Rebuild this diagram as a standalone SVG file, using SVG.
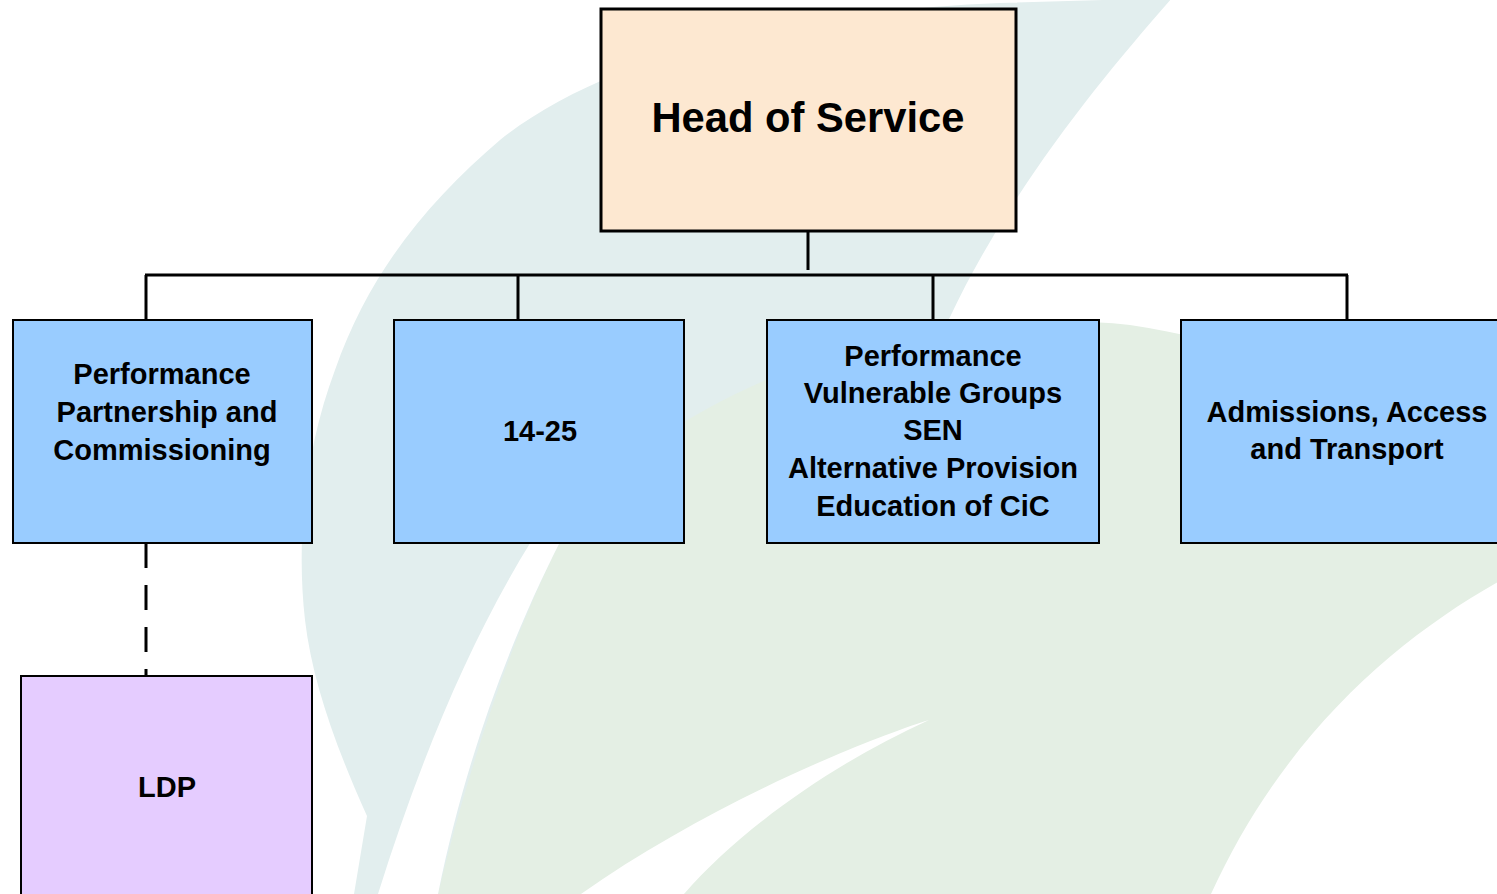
<svg xmlns="http://www.w3.org/2000/svg" width="1497" height="894" viewBox="0 0 1497 894">
  <style>
    .box { fill: #99ccff; stroke: #000; stroke-width: 2; }
    .head { fill: #fde8d1; stroke: #000; stroke-width: 3; }
    .ldp { fill: #e5ccff; stroke: #000; stroke-width: 2; }
    .lbl { font-family: "Liberation Sans", Arial, sans-serif; font-weight: bold; font-size: 29px; fill: #000; text-anchor: middle; }
    .conn { stroke: #000; stroke-width: 3; fill: none; }
    .dash { stroke: #000; stroke-width: 3; fill: none; stroke-dasharray: 25 17; }
  </style>
  <rect x="0" y="0" width="1497" height="894" fill="#ffffff"/>
  <g id="background">
    <path d="M 354,894 L 367,816 C 335,745 312,680 305,620 C 296,540 305,450 335,370 C 370,270 430,200 500,140 C 600,60 780,12 1000,3 L 1172,-2 C 1100,80 1010,190 950,317 C 900,420 720,470 600,520 L 450,894 Z" fill="#e2eeee"/>
    <path d="M 438,894 C 470,760 515,630 561,540 C 610,460 700,400 830,355 C 930,325 1040,315 1130,325 C 1300,350 1440,430 1530,500 L 1530,565 C 1420,620 1290,720 1211,894 Z" fill="#e4efe4"/>
    <path d="M 378,894 C 420,760 470,640 532,540 C 565,490 610,455 650,432 C 615,470 585,505 561,540 C 510,640 465,760 438,894 Z" fill="#ffffff"/>
    <path d="M 929,720 C 850,745 700,810 581,894 L 684,894 C 740,830 830,765 929,720 Z" fill="#ffffff"/>
  </g>
  <g id="connectors">
    <line class="conn" x1="808" y1="231" x2="808" y2="270"/>
    <line class="conn" x1="145" y1="275" x2="1348" y2="275"/>
    <line class="conn" x1="146" y1="275" x2="146" y2="320"/>
    <line class="conn" x1="518" y1="275" x2="518" y2="320"/>
    <line class="conn" x1="933" y1="275" x2="933" y2="320"/>
    <line class="conn" x1="1347" y1="275" x2="1347" y2="320"/>
    <line class="dash" x1="146" y1="543" x2="146" y2="676"/>
  </g>
  <g id="node-head">
    <rect class="head" x="601" y="9" width="415" height="222"/>
    <text class="lbl" x="808" y="132" style="font-size:42px" textLength="313" lengthAdjust="spacingAndGlyphs">Head of Service</text>
  </g>
  <g id="node-ppc">
    <rect class="box" x="13" y="320" width="299" height="223"/>
    <text class="lbl" x="162" y="384">Performance</text>
    <text class="lbl" x="167" y="422">Partnership and</text>
    <text class="lbl" x="162" y="460">Commissioning</text>
  </g>
  <g id="node-1425">
    <rect class="box" x="394" y="320" width="290" height="223"/>
    <text class="lbl" x="540" y="441">14-25</text>
  </g>
  <g id="node-pvg">
    <rect class="box" x="767" y="320" width="332" height="223"/>
    <text class="lbl" x="933" y="366">Performance</text>
    <text class="lbl" x="933" y="403">Vulnerable Groups</text>
    <text class="lbl" x="933" y="440">SEN</text>
    <text class="lbl" x="933" y="478">Alternative Provision</text>
    <text class="lbl" x="933" y="516">Education of CiC</text>
  </g>
  <g id="node-aat">
    <rect class="box" x="1181" y="320" width="330" height="223"/>
    <text class="lbl" x="1347" y="422">Admissions, Access</text>
    <text class="lbl" x="1347" y="459">and Transport</text>
  </g>
  <g id="node-ldp">
    <rect class="ldp" x="21" y="676" width="291" height="230"/>
    <text class="lbl" x="167" y="797">LDP</text>
  </g>
</svg>
